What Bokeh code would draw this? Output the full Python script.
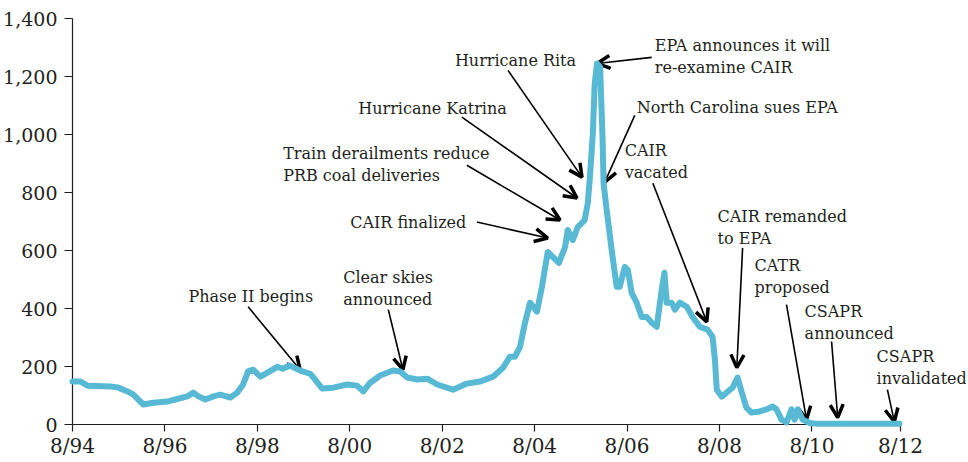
from bokeh.plotting import figure
from bokeh.models import (ColumnDataSource, Range1d, FixedTicker, NumeralTickFormatter,
                          Arrow, OpenHead)
from bokeh.core.properties import value
from bokeh.embed import file_html
from bokeh.resources import INLINE

# ---- data: SO2 allowance price ($/ton), months since 8/94 ----
months = [0, 2.1, 3.9, 9.9, 11.7, 14.3, 15.8, 18.4, 21, 24.6, 27.2, 29.8, 31.4, 32.7, 34.5,
          36.6, 38.4, 41, 42.8, 44.3, 45.6, 46.9, 48.8, 50.6, 53.2, 54.5, 56.5, 59.1, 61.7,
          63, 64.8, 67.7, 71.3, 73.9, 75.5, 77.3, 79.9, 83.2, 85.1, 86.9, 89.5, 92.1, 94.7,
          98.8, 102.4, 105.8, 109.2, 111.8, 113.6, 114.9, 116.2, 117.5, 118.8, 120.6, 121.9,
          123.4, 124.7, 126.3, 127.9, 128.6, 129.9, 131.2, 133, 133.8, 134.3, 135.1, 135.6,
          136.2, 137, 137.6, 137.9, 138.7, 140, 141.3, 142.1, 143.4, 144.2, 145.2, 146.5,
          147.8, 149.1, 150.4, 151.7, 153, 153.7, 154.3, 155.6, 156.4, 157.7, 159.5, 161,
          162.9, 164.9, 166.2, 166.8, 167.3, 168.6, 170.1, 171.4, 172.7, 173.8, 175, 176.3,
          178.4, 180.2, 181.8, 182.8, 184.1, 185.4, 186.7, 187.5, 188.3, 189.6, 191.4, 193,
          214.7]
price = [148, 148, 134, 131, 128, 114, 103, 69, 75, 79, 88, 97, 110, 97, 86,
         97, 103, 93, 110, 138, 183, 189, 165, 179, 199, 192, 203, 186, 175,
         155, 124, 127, 138, 134, 114, 144, 169, 186, 183, 162, 155, 158, 138,
         120, 141, 148, 165, 196, 234, 234, 268, 351, 420, 389, 475,
         595, 578, 557, 612, 671, 636, 681, 705, 764, 843, 1000, 1176,
         1245, 1232, 1004, 832, 740, 602, 475, 475, 543, 533, 454, 420,
         371, 371, 351, 337, 464, 523, 420, 420, 396, 420, 406, 371,
         337, 327, 303, 224, 120, 96, 113, 127, 162, 110, 58, 41,
         45, 52, 62, 52, 17, 7, 52, 17, 52, 17, 5, 3,
         3]

tick_months = [0, 24, 48, 72, 96, 120, 144, 168, 192, 215]
tick_labels = ["8/94", "8/96", "8/98", "8/00", "8/02", "8/04", "8/06", "8/08", "8/10", "8/12"]
y_ticks = [0, 200, 400, 600, 800, 1000, 1200, 1400]

# ---- annotations ----
ann_labels = ["Phase II begins", "Clear skies\nannounced", "CAIR finalized",
              "Train derailments reduce\nPRB coal deliveries", "Hurricane Katrina",
              "Hurricane Rita", "EPA announces it will\nre-examine CAIR",
              "North Carolina sues EPA", "CAIR\nvacated", "CAIR remanded\nto EPA",
              "CATR\nproposed", "CSAPR\nannounced", "CSAPR\ninvalidated"]
ann_text_x = [30.1, 70.3, 72.1, 54.7, 74.2, 99.3, 151.2, 146.5, 143.4, 167.5, 177.1, 190.1, 208.8]
ann_text_y = [440, 506, 698, 936, 1090, 1256, 1307, 1094, 946, 716, 550, 389, 234]
arr_x0 = [45.6, 82, 105, 102.4, 101.1, 113.1, 150.4, 146, 150.7, 174, 185.4, 197.1, 211.6]
arr_y0 = [406, 396, 698, 894, 1060, 1221, 1266, 1066, 832, 609, 413, 286, 120]
arr_x1 = [59.1, 85.8, 123.4, 126.6, 131, 132.3, 136.2, 138.2, 164.7, 172.5, 190.6, 198.7, 213.4]
arr_y1 = [189, 189, 643, 705, 781, 853, 1245, 836, 354, 196, 17, 24, 10]

FONT = "DejaVu Serif"
TXT = "#231f20"

p = figure(width=966, height=461, output_backend="svg", toolbar_location=None,
           x_range=Range1d(0, 215), y_range=Range1d(0, 1400),
           min_border_left=70, min_border_right=66, min_border_top=18, min_border_bottom=37)
p.outline_line_color = None
p.xgrid.grid_line_color = None
p.ygrid.grid_line_color = None
p.background_fill_color = "white"
p.border_fill_color = "white"

# axes
p.xaxis.ticker = FixedTicker(ticks=tick_months)
p.xaxis.major_label_overrides = {m: l for m, l in zip(tick_months, tick_labels)}
p.yaxis.ticker = FixedTicker(ticks=y_ticks)
p.yaxis.formatter = NumeralTickFormatter(format="0,0")
for ax in (p.xaxis, p.yaxis):
    ax.axis_line_color = "#231f20"
    ax.axis_line_width = 1.2
    ax.major_tick_line_color = "#231f20"
    ax.major_tick_line_width = 1.2
    ax.major_tick_in = 0
    ax.minor_tick_line_color = None
    ax.major_label_text_font = FONT
    ax.major_label_text_color = TXT
p.xaxis.major_tick_out = 7
p.yaxis.major_tick_out = 8
p.xaxis.major_label_text_font_size = "20px"
p.yaxis.major_label_text_font_size = "19px"
p.xaxis.major_label_standoff = 2
p.yaxis.major_label_standoff = 7

# price line
p.line(months, price, line_color="#58B9D4", line_width=6, line_join="round",
       line_cap="round", level="overlay")

# annotation texts (one row per line of text)
tx, ty, tt, toff = [], [], [], []
for lab, x, y in zip(ann_labels, ann_text_x, ann_text_y):
    for i, line in enumerate(lab.split("\n")):
        tx.append(x); ty.append(y); tt.append(line); toff.append(i * 22)
tsrc = ColumnDataSource(dict(x=tx, y=ty, text=tt, yo=toff))
p.text(x="x", y="y", text="text", y_offset="yo", source=tsrc,
       text_font=value(FONT), text_font_size="16px", text_color=TXT,
       text_align="left", text_baseline="middle", level="overlay")

# arrows
asrc = ColumnDataSource(dict(x0=arr_x0, y0=arr_y0, x1=arr_x1, y1=arr_y1))
p.add_layout(Arrow(end=OpenHead(size=13, line_width=3.5, line_color="black"),
                   x_start="x0", y_start="y0", x_end="x1", y_end="y1",
                   source=asrc, line_width=1.6, line_color="black"))

open("out.html", "w").write(file_html(p, INLINE))
